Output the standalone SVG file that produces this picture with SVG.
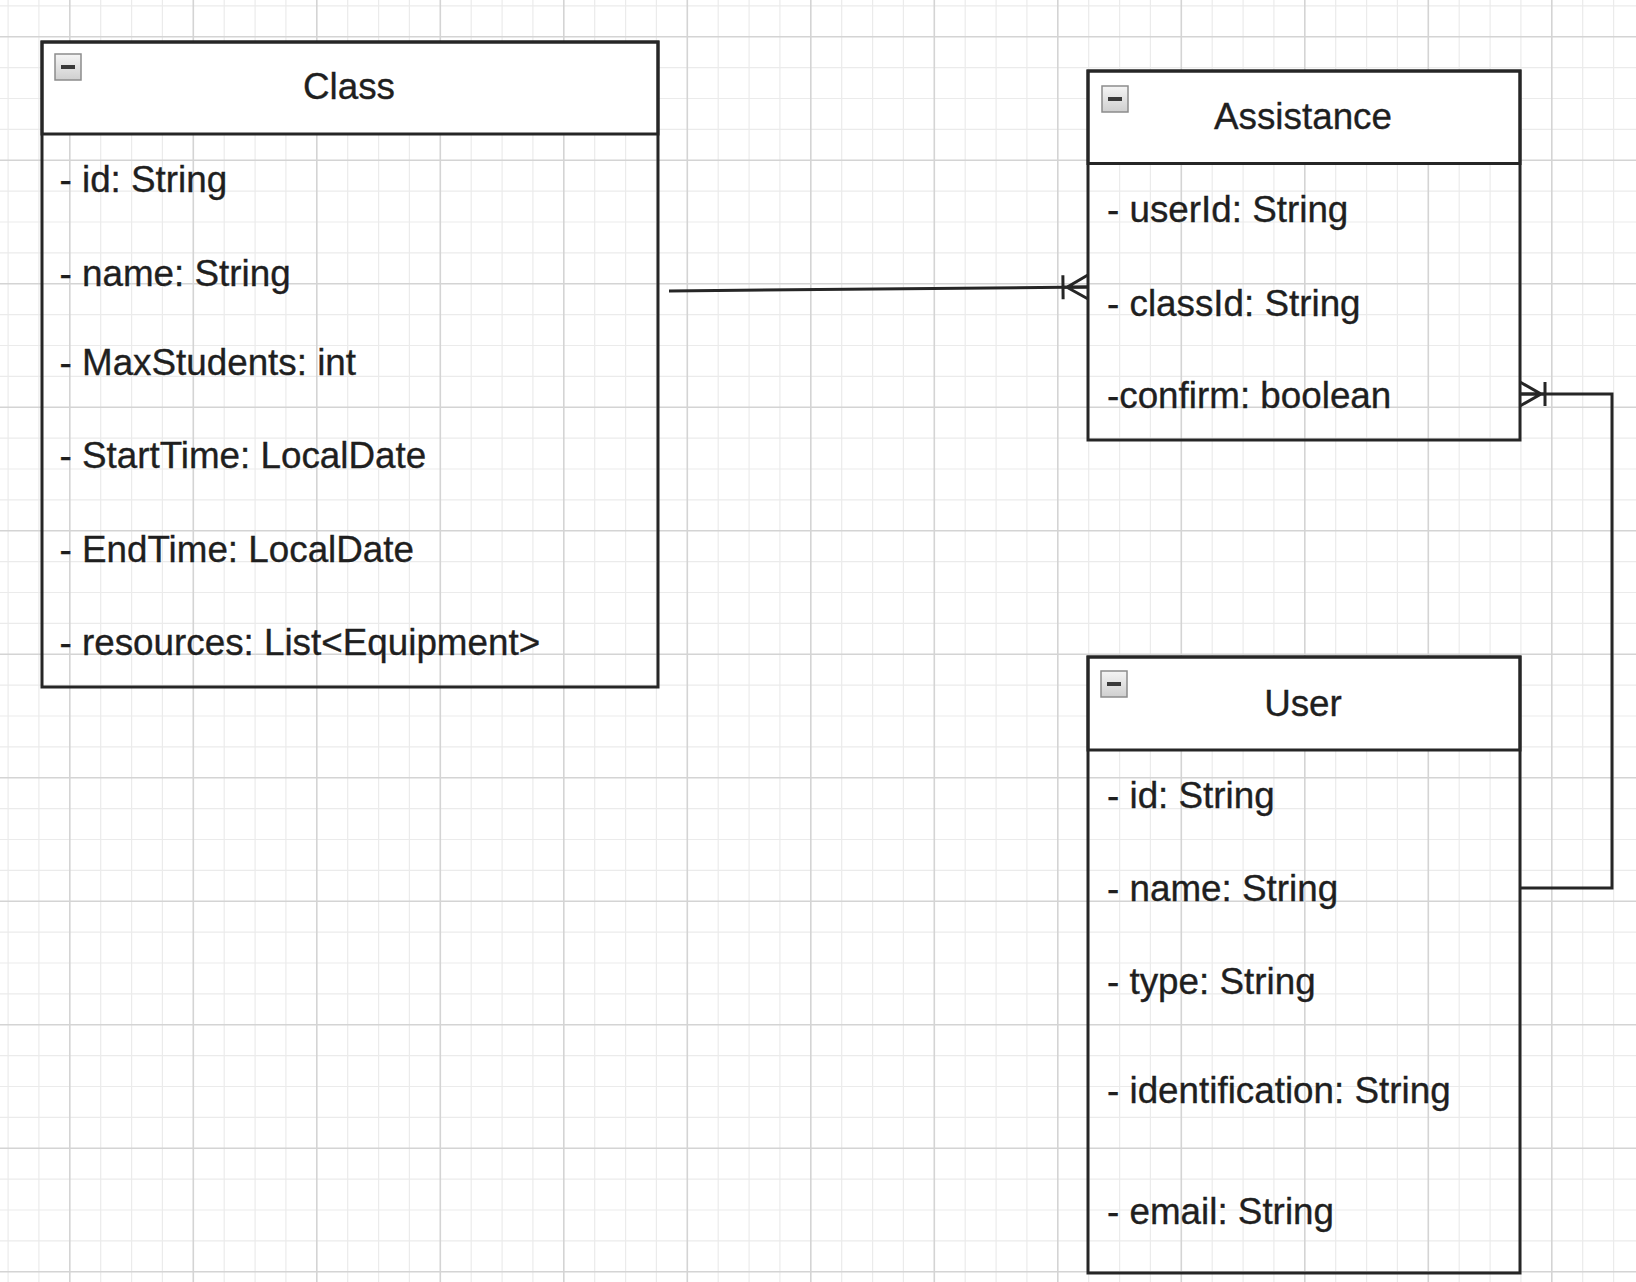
<svg xmlns="http://www.w3.org/2000/svg" width="1636" height="1282" viewBox="0 0 1636 1282">
  <style>
    .grid-minor { fill: none; stroke: #ebebeb; stroke-width: 1.2; }
    .grid-major { fill: none; stroke: #d4d4d4; stroke-width: 1.6; }
    .box { fill: none; stroke: #262626; stroke-width: 3; }
    .head { fill: #ffffff; stroke: #262626; stroke-width: 3; }
    .title { font-family: "Liberation Sans", Arial, sans-serif; font-size: 36.8px; fill: #1f1f1f; stroke: #1f1f1f; stroke-width: 0.35; text-anchor: middle; }
    .attr { font-family: "Liberation Sans", Arial, sans-serif; font-size: 36.8px; fill: #1f1f1f; stroke: #1f1f1f; stroke-width: 0.35; }
    .icon { fill: url(#iconGrad); stroke: #8c8c8c; stroke-width: 1.5; }
    .dash { fill: #3a3a3a; }
    .conn { fill: none; stroke: #262626; stroke-width: 3; }
  </style>
  <defs>
    <linearGradient id="iconGrad" x1="0" y1="0" x2="0" y2="1">
      <stop offset="0" stop-color="#f5f5f5"/>
      <stop offset="1" stop-color="#cfcfcf"/>
    </linearGradient>
    <marker id="oneMany" markerUnits="userSpaceOnUse" viewBox="-30 -16 32 32" markerWidth="32" markerHeight="32" refX="0" refY="0" orient="auto">
      <path d="M0,-12 L-21,0 L0,12 M-25,-12 V12 M-25,0 H0" fill="none" stroke="#262626" stroke-width="3"/>
    </marker>
  </defs>

  <rect x="0" y="0" width="1636" height="1282" fill="#ffffff"/>

  <g id="grid">
    <path class="grid-minor" d="M8.1,0V1282M38.9,0V1282M100.7,0V1282M131.6,0V1282M162.4,0V1282M224.2,0V1282M255.1,0V1282M285.9,0V1282M347.7,0V1282M378.6,0V1282M409.4,0V1282M471.2,0V1282M502.1,0V1282M532.9,0V1282M594.7,0V1282M625.6,0V1282M656.4,0V1282M718.2,0V1282M749.1,0V1282M779.9,0V1282M841.7,0V1282M872.6,0V1282M903.4,0V1282M965.2,0V1282M996.1,0V1282M1026.9,0V1282M1088.7,0V1282M1119.6,0V1282M1150.4,0V1282M1212.2,0V1282M1243.1,0V1282M1273.9,0V1282M1335.7,0V1282M1366.6,0V1282M1397.4,0V1282M1459.2,0V1282M1490.1,0V1282M1520.9,0V1282M1582.7,0V1282M1613.6,0V1282
      M0,5.8H1636M0,67.6H1636M0,98.5H1636M0,129.3H1636M0,191.1H1636M0,222H1636M0,252.8H1636M0,314.6H1636M0,345.5H1636M0,376.3H1636M0,438.1H1636M0,469H1636M0,499.8H1636M0,561.6H1636M0,592.5H1636M0,623.3H1636M0,685.1H1636M0,716H1636M0,746.8H1636M0,808.6H1636M0,839.5H1636M0,870.3H1636M0,932.1H1636M0,963H1636M0,993.8H1636M0,1055.6H1636M0,1086.5H1636M0,1117.3H1636M0,1179.1H1636M0,1210H1636M0,1240.8H1636"/>
    <path class="grid-major" d="M69.8,0V1282M193.3,0V1282M316.8,0V1282M440.3,0V1282M563.8,0V1282M687.3,0V1282M810.8,0V1282M934.3,0V1282M1057.8,0V1282M1181.3,0V1282M1304.8,0V1282M1428.3,0V1282M1551.8,0V1282
      M0,36.7H1636M0,160.2H1636M0,283.7H1636M0,407.2H1636M0,530.7H1636M0,654.2H1636M0,777.7H1636M0,901.2H1636M0,1024.7H1636M0,1148.2H1636M0,1271.7H1636"/>
  </g>

  <g id="connectors">
    <path id="class-assistance" class="conn" d="M669,291 L1088,287" marker-end="url(#oneMany)"/>
    <path id="user-assistance" class="conn" d="M1520,888 H1612 V394 H1520" marker-end="url(#oneMany)"/>
  </g>

  <g id="node-class">
    <rect class="head" x="42" y="42" width="616" height="92"/>
    <rect class="box" x="42" y="42" width="616" height="645"/>
    <rect class="icon" x="55" y="54" width="26" height="26"/>
    <rect class="dash" x="61" y="65" width="14" height="4"/>
    <text class="title" x="349" y="99">Class</text>
    <text class="attr" x="59.5" y="192">- id: String</text>
    <text class="attr" x="59.5" y="286">- name: String</text>
    <text class="attr" x="59.5" y="375">- MaxStudents: int</text>
    <text class="attr" x="59.5" y="468">- StartTime: LocalDate</text>
    <text class="attr" x="59.5" y="562">- EndTime: LocalDate</text>
    <text class="attr" x="59.5" y="655">- resources: List&lt;Equipment&gt;</text>
  </g>

  <g id="node-assistance">
    <rect class="head" x="1088" y="71" width="432" height="92.5"/>
    <rect class="box" x="1088" y="71" width="432" height="369"/>
    <rect class="icon" x="1102" y="86" width="26" height="26"/>
    <rect class="dash" x="1108" y="97" width="14" height="4"/>
    <text class="title" x="1303" y="129">Assistance</text>
    <text class="attr" x="1107" y="222">- userId: String</text>
    <text class="attr" x="1107" y="316">- classId: String</text>
    <text class="attr" x="1107" y="408">-confirm: boolean</text>
  </g>

  <g id="node-user">
    <rect class="head" x="1088" y="657" width="432" height="93"/>
    <rect class="box" x="1088" y="657" width="432" height="616"/>
    <rect class="icon" x="1101" y="671" width="26" height="26"/>
    <rect class="dash" x="1107" y="682" width="14" height="4"/>
    <text class="title" x="1303" y="716">User</text>
    <text class="attr" x="1107" y="808">- id: String</text>
    <text class="attr" x="1107" y="901">- name: String</text>
    <text class="attr" x="1107" y="994">- type: String</text>
    <text class="attr" x="1107" y="1103">- identification: String</text>
    <text class="attr" x="1107" y="1224">- email: String</text>
  </g>
</svg>
